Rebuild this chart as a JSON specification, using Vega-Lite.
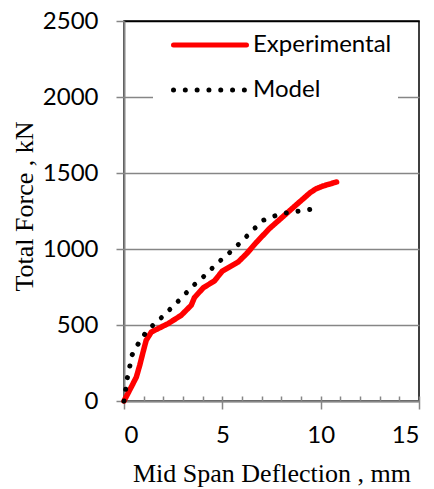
{
  "$schema": "https://vega.github.io/schema/vega-lite/v6.json",
  "width": 295,
  "height": 380,
  "autosize": "none",
  "padding": {"left": 124, "top": 21, "right": 15, "bottom": 88},
  "background": "white",
  "config": {
    "view": {"stroke": "black", "strokeWidth": 1.5},
    "axis": {
      "labelFont": "Lato", "labelFontSize": 24, "labelColor": "black",
      "titleFont": "Liberation Serif", "titleFontSize": 26, "titleFontWeight": "normal", "titleColor": "black",
      "domainColor": "#868686", "domainWidth": 2,
      "tickColor": "#868686", "tickWidth": 1.5,
      "gridColor": "#868686", "gridWidth": 1.5
    }
  },
  "data": {
    "values": [
      {"series": "Experimental", "deflection": 0, "force": 0},
      {"series": "Experimental", "deflection": 0.37, "force": 92},
      {"series": "Experimental", "deflection": 0.63, "force": 158},
      {"series": "Experimental", "deflection": 0.8, "force": 235},
      {"series": "Experimental", "deflection": 0.97, "force": 322},
      {"series": "Experimental", "deflection": 1.13, "force": 400},
      {"series": "Experimental", "deflection": 1.39, "force": 454},
      {"series": "Experimental", "deflection": 1.73, "force": 476},
      {"series": "Experimental", "deflection": 2.24, "force": 509},
      {"series": "Experimental", "deflection": 2.91, "force": 564},
      {"series": "Experimental", "deflection": 3.42, "force": 630},
      {"series": "Experimental", "deflection": 3.58, "force": 680},
      {"series": "Experimental", "deflection": 4.03, "force": 745},
      {"series": "Experimental", "deflection": 4.6, "force": 790},
      {"series": "Experimental", "deflection": 5.0, "force": 855},
      {"series": "Experimental", "deflection": 5.81, "force": 915},
      {"series": "Experimental", "deflection": 6.24, "force": 970},
      {"series": "Experimental", "deflection": 6.74, "force": 1045},
      {"series": "Experimental", "deflection": 7.4, "force": 1135},
      {"series": "Experimental", "deflection": 8.1, "force": 1215},
      {"series": "Experimental", "deflection": 8.78, "force": 1293},
      {"series": "Experimental", "deflection": 9.46, "force": 1370},
      {"series": "Experimental", "deflection": 9.75, "force": 1395},
      {"series": "Experimental", "deflection": 10.13, "force": 1415},
      {"series": "Experimental", "deflection": 10.81, "force": 1441},
      {"series": "Model", "deflection": 0, "force": 0},
      {"series": "Model", "deflection": 0.17, "force": 152},
      {"series": "Model", "deflection": 0.42, "force": 305},
      {"series": "Model", "deflection": 0.71, "force": 373},
      {"series": "Model", "deflection": 1.05, "force": 439},
      {"series": "Model", "deflection": 1.44, "force": 494},
      {"series": "Model", "deflection": 1.9, "force": 548},
      {"series": "Model", "deflection": 2.32, "force": 601},
      {"series": "Model", "deflection": 2.75, "force": 656},
      {"series": "Model", "deflection": 3.16, "force": 711},
      {"series": "Model", "deflection": 3.58, "force": 766},
      {"series": "Model", "deflection": 4.03, "force": 816},
      {"series": "Model", "deflection": 4.46, "force": 871},
      {"series": "Model", "deflection": 4.92, "force": 926},
      {"series": "Model", "deflection": 5.36, "force": 975},
      {"series": "Model", "deflection": 5.81, "force": 1029},
      {"series": "Model", "deflection": 6.24, "force": 1084},
      {"series": "Model", "deflection": 6.66, "force": 1138},
      {"series": "Model", "deflection": 7.08, "force": 1189},
      {"series": "Model", "deflection": 7.64, "force": 1217},
      {"series": "Model", "deflection": 8.23, "force": 1237},
      {"series": "Model", "deflection": 8.81, "force": 1248},
      {"series": "Model", "deflection": 9.41, "force": 1259},
      {"series": "Model", "deflection": 10.0, "force": 1272}
    ]
  },
  "encoding": {
    "y": {
      "field": "force", "type": "quantitative",
      "scale": {"domain": [0, 2500], "nice": false},
      "axis": {
        "title": "Total Force , kN", "format": "d",
        "values": [0, 500, 1000, 1500, 2000, 2500],
        "tickSize": 8, "labelPadding": 18,
        "gridColor": {"condition": {"test": "datum.value == 2500", "value": "black"}, "value": "#868686"},
        "titleX": -92, "titleY": 185, "titleAngle": 270, "titleBaseline": "alphabetic", "titleAlign": "center"
      }
    },
    "color": {
      "field": "series", "type": "nominal",
      "scale": {"domain": ["Experimental", "Model"], "range": ["#ff0000", "#000000"]},
      "legend": {
        "title": null, "orient": "none", "legendX": 29, "legendY": 7,
        "fillColor": "white", "padding": 6,
        "symbolType": "stroke", "symbolSize": 5329, "symbolStrokeWidth": 5,
        "symbolOffset": 12, "clipHeight": 22, "rowPadding": 21,
        "labelFont": "Lato", "labelFontSize": 24, "labelColor": "black", "labelOffset": 4, "labelLimit": 300,
        "encode": {"symbols": {"update": {"strokeCap": {"value": "round"}}}}
      }
    },
    "strokeDash": {
      "field": "series", "type": "nominal",
      "scale": {"domain": ["Experimental", "Model"], "range": [[1, 0], [0.01, 11.8]]}
    }
  },
  "layer": [
    {
      "transform": [{"filter": "datum.series == 'Experimental'"}],
      "mark": {"type": "line", "strokeWidth": 5.5, "strokeCap": "round", "strokeJoin": "round"},
      "encoding": {
        "x": {
          "field": "deflection", "type": "quantitative",
          "scale": {"domain": [0, 15], "nice": false},
          "axis": {
            "orient": "bottom", "title": "Mid Span Deflection , mm",
            "values": [0, 5, 10, 15], "tickSize": 8, "labelPadding": 14, "grid": false,
            "titleY": 80, "titleBaseline": "alphabetic"
          }
        },
        "order": {"field": "deflection", "type": "quantitative"}
      }
    },
    {
      "transform": [{"filter": "datum.series == 'Model'"}],
      "mark": {"type": "line", "strokeWidth": 5, "strokeCap": "round", "strokeJoin": "round"},
      "encoding": {
        "x": {
          "field": "deflection", "type": "quantitative",
          "scale": {"domain": [0, 15], "nice": false},
          "axis": {
            "orient": "bottom", "title": null, "labels": false, "domain": false, "grid": false,
            "values": [0, 1, 2, 3, 4, 5, 6, 7, 8, 9, 10, 11, 12, 13, 14, 15], "tickSize": -5
          }
        },
        "order": {"field": "deflection", "type": "quantitative"}
      }
    }
  ],
  "resolve": {"axis": {"x": "independent"}}
}
